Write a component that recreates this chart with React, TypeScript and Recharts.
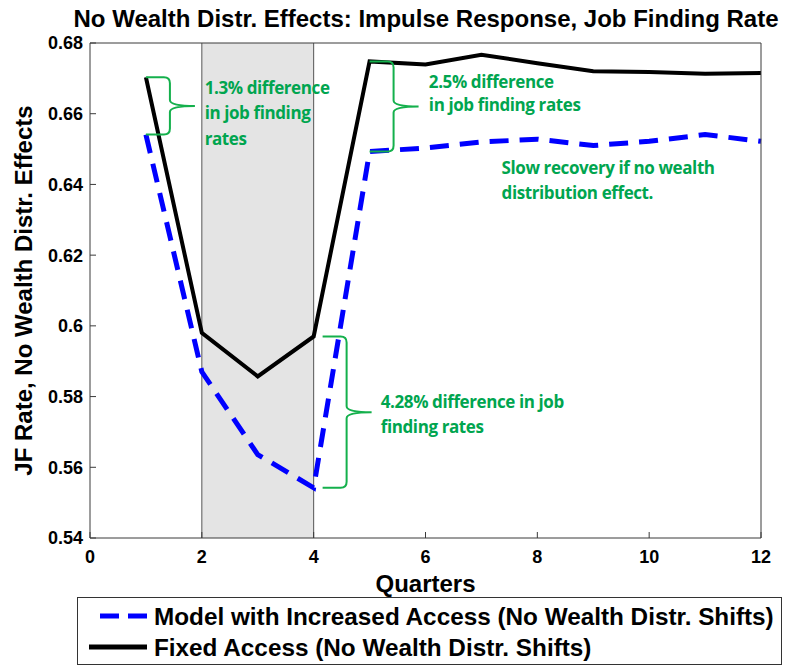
import React from "react";
import {
  LineChart,
  Line,
  XAxis,
  YAxis,
  ReferenceArea,
  ReferenceLine,
  ReferenceDot,
} from "recharts";

// quarters after the shock
const QUARTERS = [1, 2, 3, 4, 5, 6, 7, 8, 9, 10, 11, 12];
// model with increased access (dashed blue)
const INCREASED_ACCESS = [0.6541, 0.587, 0.5636, 0.5542, 0.6493, 0.6503, 0.652, 0.6528, 0.651, 0.6522, 0.6541, 0.6522];
// fixed access (solid black)
const FIXED_ACCESS = [0.6703, 0.598, 0.5857, 0.597, 0.6748, 0.6739, 0.6767, 0.6743, 0.672, 0.6718, 0.6713, 0.6715];

const X_TICKS = [0, 2, 4, 6, 8, 10, 12];
const Y_TICKS = [0.54, 0.56, 0.58, 0.6, 0.62, 0.64, 0.66, 0.68];

const SHADE_FROM = 2;
const SHADE_TO = 4;

const SERIES_NAMES = [
  "Model with Increased Access (No Wealth Distr. Shifts)",
  "Fixed Access (No Wealth Distr. Shifts)",
];

// braces: x where the brace starts, top and bottom values
const BRACE_X = [1, 5, 4.16];
const BRACE_TOP = [FIXED_ACCESS[0], FIXED_ACCESS[4], FIXED_ACCESS[3]];
const BRACE_BOTTOM = [INCREASED_ACCESS[0], INCREASED_ACCESS[4], INCREASED_ACCESS[3]];

// notes: anchor (left edge, first line centre) and lines
const NOTE_X = [2.05, 6.06, 7.36, 5.2];
const NOTE_Y = [0.6674, 0.6691, 0.6447, 0.5786];
const NOTE_LINES = [
  ["1.3% difference", "in job finding", "rates"],
  ["2.5% difference", "in job finding rates"],
  ["Slow recovery if no wealth", "distribution effect."],
  ["4.28% difference in job", "finding rates"],
];
const NOTE_LEADING = [25.5, 23.5, 25, 25];

const BLUE = "#0000ff";
const BLACK = "#000000";
const GREEN_TEXT = "#00a54f";
const GREEN_BRACE = "#14b04c";
const AXIS = "#3a3a3a";
const FONT = "'Liberation Sans', Arial, sans-serif";
const NOTE_FONT = "'Open Sans', 'Noto Sans', sans-serif";

const data = QUARTERS.map((q, i) => ({
  q,
  increased: INCREASED_ACCESS[i],
  fixed: FIXED_ACCESS[i],
}));

function Brace(props: any) {
  const { x1, y1, y2 } = props;
  const arm = 24;
  const tip = 25;
  const r = 6;
  const ym = (y1 + y2) / 2;
  const xv = x1 + arm;
  const d =
    `M${x1},${y1} L${xv - r},${y1} Q${xv},${y1} ${xv},${y1 + r} ` +
    `L${xv},${ym - r} Q${xv},${ym} ${xv + tip},${ym} ` +
    `Q${xv},${ym} ${xv},${ym + r} L${xv},${y2 - r} ` +
    `Q${xv},${y2} ${xv - r},${y2} L${x1},${y2}`;
  return <path d={d} fill="none" stroke={GREEN_BRACE} strokeWidth={2} />;
}

function noteShape(lines: string[], leading: number) {
  return (p: any) => (
    <text
      fill={GREEN_TEXT}
      fontFamily={NOTE_FONT}
      fontWeight="bold"
      fontSize={17}
      letterSpacing={-0.4}
    >
      {lines.map((t, i) => (
        <tspan key={i} x={p.cx} y={p.cy + 6 + i * leading}>
          {t}
        </tspan>
      ))}
    </text>
  );
}

const fmtY = (v: number) => String(Number(v.toFixed(2)));

export default function App() {
  return (
    <div style={{ position: "absolute", left: 0, top: 0, width: 786, height: 666, background: "#fff" }}>
      <LineChart
        width={786}
        height={600}
        data={data}
        margin={{ top: 42, right: 24, bottom: 0, left: 0 }}
      >
        <ReferenceArea
          x1={SHADE_FROM}
          x2={SHADE_TO}
          y1={0.54}
          y2={0.68}
          fill="#e4e4e4"
          fillOpacity={1}
          stroke="none"
        />
        <ReferenceLine x={SHADE_FROM} stroke="#555" strokeWidth={1} />
        <ReferenceLine x={SHADE_TO} stroke="#555" strokeWidth={1} />

        <XAxis
          dataKey="q"
          type="number"
          domain={[0, 12]}
          ticks={X_TICKS}
          height={62}
          stroke={AXIS}
          tickSize={-6}
          tickMargin={18}
          tick={{ fill: "#000", fontSize: 18, fontWeight: 700, fontFamily: FONT }}
          label={{
            value: "Quarters",
            position: "insideBottom",
            offset: 8,
            fill: "#000",
            fontSize: 24,
            fontWeight: 700,
            fontFamily: FONT,
          }}
        />
        <XAxis
          xAxisId="top"
          orientation="top"
          type="number"
          domain={[0, 12]}
          ticks={X_TICKS}
          height={1}
          stroke={AXIS}
          tickSize={-6}
          tick={false}
        />
        <YAxis
          type="number"
          domain={[0.54, 0.68]}
          ticks={Y_TICKS}
          width={90}
          stroke={AXIS}
          tickSize={-6}
          tickMargin={13}
          tickFormatter={fmtY}
          tick={{ fill: "#000", fontSize: 18, fontWeight: 700, fontFamily: FONT }}
          label={{
            content: () => (
              <text
                x={23}
                y={290.5}
                transform="rotate(-90, 23, 290.5)"
                textAnchor="middle"
                dominantBaseline="central"
                fill="#000"
                fontSize={24}
                fontWeight={700}
                fontFamily={FONT}
              >
                JF Rate, No Wealth Distr. Effects
              </text>
            ),
          }}
        />
        <YAxis
          yAxisId="right"
          orientation="right"
          type="number"
          domain={[0.54, 0.68]}
          ticks={Y_TICKS}
          width={1}
          stroke={AXIS}
          tickSize={-6}
          tick={false}
        />

        <Line
          type="linear"
          dataKey="increased"
          name={SERIES_NAMES[0]}
          stroke={BLUE}
          strokeWidth={5}
          strokeDasharray="19 11"
          dot={false}
          activeDot={false}
          isAnimationActive={false}
        />
        <Line
          type="linear"
          dataKey="fixed"
          name={SERIES_NAMES[1]}
          stroke={BLACK}
          strokeWidth={4}
          dot={false}
          activeDot={false}
          isAnimationActive={false}
        />

        {BRACE_X.map((x, i) => (
          <ReferenceLine
            key={`brace-${i}`}
            segment={[
              { x, y: BRACE_TOP[i] },
              { x, y: BRACE_BOTTOM[i] },
            ]}
            shape={Brace}
          />
        ))}
        {NOTE_X.map((x, i) => (
          <ReferenceDot
            key={`note-${i}`}
            x={x}
            y={NOTE_Y[i]}
            r={0}
            shape={noteShape(NOTE_LINES[i], NOTE_LEADING[i])}
          />
        ))}
      </LineChart>

      <svg
        width={786}
        height={666}
        style={{ position: "absolute", left: 0, top: 0, pointerEvents: "none" }}
      >
        <text
          x={426}
          y={27}
          textAnchor="middle"
          fill="#000"
          fontSize={24}
          fontWeight={700}
          fontFamily={FONT}
        >
          No Wealth Distr. Effects: Impulse Response, Job Finding Rate
        </text>
        <rect x={77.5} y={597.5} width={704} height={67} fill="#fff" stroke="#333" strokeWidth={1} />
        <line x1={100} y1={616} x2={147} y2={616} stroke={BLUE} strokeWidth={5} strokeDasharray="19 9" />
        <line x1={89} y1={647} x2={147} y2={647} stroke={BLACK} strokeWidth={5} />
        <text x={154} y={624.5} fill="#000" fontSize={24.3} fontWeight={700} fontFamily={FONT}>
          {SERIES_NAMES[0]}
        </text>
        <text x={154} y={655.5} fill="#000" fontSize={24.3} fontWeight={700} fontFamily={FONT}>
          {SERIES_NAMES[1]}
        </text>
      </svg>
    </div>
  );
}
